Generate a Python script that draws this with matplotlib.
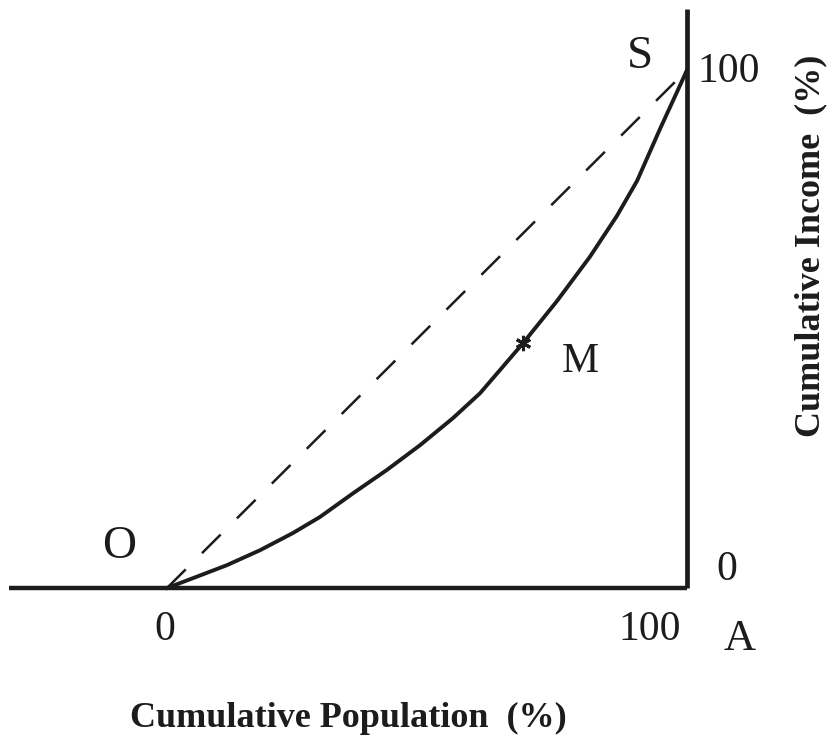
import matplotlib
matplotlib.use("Agg")
import matplotlib.pyplot as plt

plt.rcParams['lines.scale_dashes'] = False

# Lorenz curve (cumulative population %, cumulative income %)
pop_pct = [0, 5.0, 11.5, 17.9, 24.2, 29.4, 35.8, 42.3, 48.7, 55.0, 60.2, 64.4,
           68.5, 75.0, 81.3, 86.5, 90.4, 94.8, 98.1, 100]
inc_pct = [0, 1.9, 4.4, 7.3, 10.6, 13.7, 18.3, 22.8, 27.6, 32.8, 37.6, 42.5,
           47.3, 55.4, 63.9, 71.8, 78.6, 88.6, 95.8, 100]

equality_x = [0, 100]
equality_y = [0, 100]

point_m = (68.5, 47.3)

x_axis_span = [-30.4, 100]
y_axis_span = [0, 111.8]

tick_labels_x = ["0", "100"]
tick_labels_y = ["0", "100"]

ink = '#1c1c1c'
serif = ['Liberation Serif', 'DejaVu Serif']

fig = plt.figure(figsize=(8.38, 7.42), dpi=100)
ax = fig.add_axes([0, 0, 1, 1])
ax.set_xlim(-32.12, 129.04)
ax.set_ylim(-29.73, 113.51)
ax.axis('off')

# axes lines
ax.plot(x_axis_span, [0, 0], color=ink, lw=3.2, solid_capstyle='butt', zorder=3)
ax.plot([100, 100], y_axis_span, color=ink, lw=3.4, solid_capstyle='butt', zorder=3)

# equality line
ax.plot(equality_x, equality_y, color=ink, lw=1.8, dashes=(19, 16.5), zorder=2)

# Lorenz curve
ax.plot(pop_pct, inc_pct, color=ink, lw=2.8, zorder=3, solid_joinstyle='round')
ax.plot([point_m[0]], [point_m[1]], marker=(6, 2, 0), ms=11, mew=2.2, color=ink, zorder=4)

# letters
ax.text(91.0, 100.4, "S", fontsize=34, family=serif, color=ink, ha='center', va='baseline')
ax.text(-9.2, 5.8, "O", fontsize=34, family=serif, color=ink, ha='center', va='baseline')
ax.text(79.4, 41.7, "M", fontsize=30, family=serif, color=ink, ha='center', va='baseline')
ax.text(110.2, -12.0, "A", fontsize=32, family=serif, color=ink, ha='center', va='baseline')

# tick labels
ax.text(-0.4, -10.0, tick_labels_x[0], fontsize=30, family=serif, color=ink, ha='center', va='baseline')
ax.text(92.9, -10.0, tick_labels_x[1], fontsize=30, family=serif, color=ink, ha='center', va='baseline')
ax.text(107.7, 1.5, tick_labels_y[0], fontsize=30, family=serif, color=ink, ha='center', va='baseline')
ax.text(108.1, 97.7, tick_labels_y[1], fontsize=30, family=serif, color=ink, ha='center', va='baseline')

# axis titles
fig.text(348 / 838, 1 - 718 / 742, "Cumulative Population  (%)", fontsize=26, family=serif,
         fontweight='bold', color=ink, ha='center', va='center')
fig.text(811 / 838, 1 - 246 / 742, "Cumulative Income  (%)", fontsize=26, family=serif,
         fontweight='bold', color=ink, ha='center', va='center', rotation=90)

fig.savefig("out.png", dpi=100)
